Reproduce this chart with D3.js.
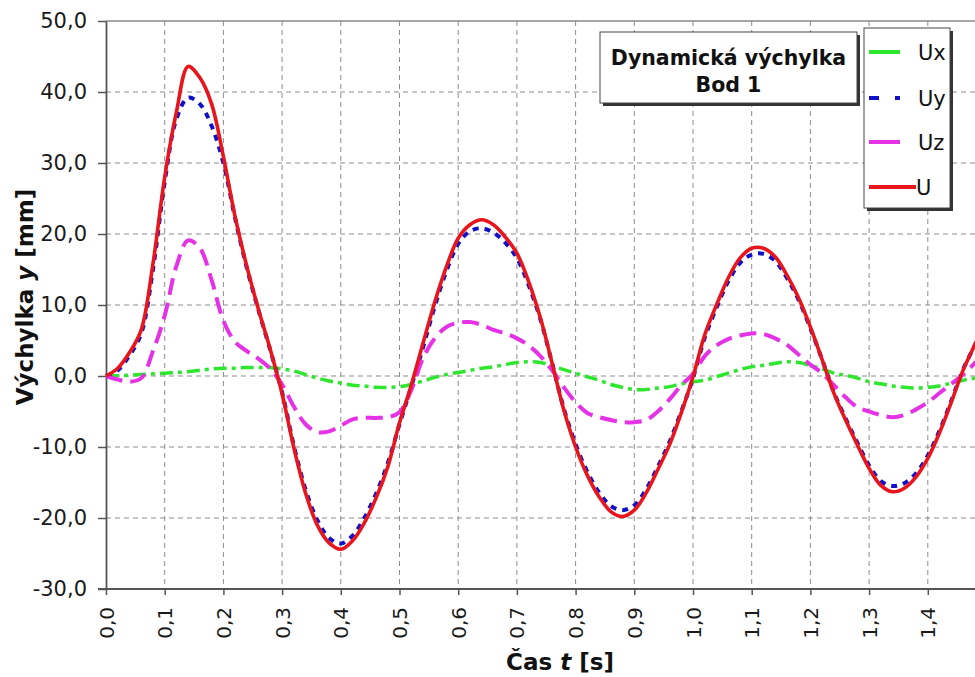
<!DOCTYPE html>
<html>
<head>
<meta charset="utf-8">
<title>Dynamická výchylka - Bod 1</title>
<script src="https://cdnjs.cloudflare.com/ajax/libs/d3/7.8.5/d3.min.js"></script>
<style>
	body { margin: 0; background: #fff; }
	svg { display: block; font-family: "DejaVu Sans", Verdana, sans-serif; }
</style>
</head>
<body>
<div id="chart"></div>
<script>
// time [s]
var time = [0.00, 0.02, 0.04, 0.06, 0.08, 0.10, 0.12, 0.14, 0.16, 0.18,
	0.20, 0.22, 0.24, 0.26, 0.28, 0.30, 0.32, 0.34, 0.36, 0.38,
	0.40, 0.42, 0.44, 0.46, 0.48, 0.50, 0.52, 0.54, 0.56, 0.58,
	0.60, 0.62, 0.64, 0.66, 0.68, 0.70, 0.72, 0.74, 0.76, 0.78,
	0.80, 0.82, 0.84, 0.86, 0.88, 0.90, 0.92, 0.94, 0.96, 0.98,
	1.00, 1.02, 1.04, 1.06, 1.08, 1.10, 1.12, 1.14, 1.16, 1.18,
	1.20, 1.22, 1.24, 1.26, 1.28, 1.30, 1.32, 1.34, 1.36, 1.38,
	1.40, 1.42, 1.44, 1.46, 1.48, 1.50];

// displacements [mm]
var ux = [0, 0.05, 0.1, 0.2, 0.3, 0.4, 0.5, 0.6, 0.8, 1.0,
	1.1, 1.1, 1.2, 1.2, 1.2, 1.0, 0.7, 0.2, -0.3, -0.7,
	-1.0, -1.3, -1.4, -1.6, -1.6, -1.5, -1.2, -0.7, -0.2, 0.2,
	0.5, 0.8, 1.1, 1.3, 1.6, 1.9, 2.0, 1.9, 1.4, 0.9,
	0.4, -0.1, -0.6, -1.2, -1.6, -1.9, -1.9, -1.7, -1.5, -1.1,
	-0.8, -0.6, -0.1, 0.4, 0.9, 1.3, 1.5, 1.8, 2.0, 1.9,
	1.5, 1.0, 0.4, 0.1, -0.3, -0.8, -1.1, -1.4, -1.6, -1.7,
	-1.6, -1.4, -1.0, -0.6, -0.3, 0.0];

var uy = [0, 0.8, 2.9, 6.0, 15.0, 27.3, 36.2, 39.2, 38.3, 35.2,
	30.0, 22.2, 15.2, 9.2, 3.6, -2.3, -9.8, -16.0, -20.3, -22.8,
	-23.6, -22.5, -20.0, -16.6, -12.3, -6.8, -1.5, 4.0, 9.8, 14.8,
	18.6, 20.4, 20.8, 20.2, 18.8, 16.6, 12.8, 8.0, 1.8, -4.6,
	-9.6, -13.5, -16.4, -18.3, -18.9, -18.2, -16.0, -12.8, -9.3, -5.0,
	-0.3, 5.4, 9.6, 13.3, 15.9, 17.1, 17.2, 16.2, 13.8, 10.7,
	6.7, 2.3, -2.3, -6.0, -9.4, -12.6, -14.8, -15.5, -15.1, -13.7,
	-11.2, -7.7, -3.5, 0.9, 4.3, 7.8];

var uz = [0, -0.5, -0.8, -0.3, 3.5, 8.5, 15.5, 19.1, 18.0, 13.5,
	7.8, 4.8, 3.5, 2.4, 1.0, -1.2, -4.3, -6.8, -7.9, -7.8,
	-7.0, -6.1, -5.9, -5.9, -5.8, -5.1, -2.0, 2.5, 5.3, 6.9,
	7.5, 7.6, 7.2, 6.5, 6.0, 5.3, 4.3, 2.8, 0.8, -1.6,
	-3.7, -5.2, -5.8, -6.2, -6.5, -6.5, -6.2, -5.0, -3.3, -1.3,
	0.3, 2.8, 4.3, 5.2, 5.7, 6.0, 5.9, 5.3, 4.4, 3.0,
	1.6, 0.4, -1.3, -3.0, -4.4, -5.0, -5.5, -5.8, -5.5, -4.7,
	-3.7, -2.4, -1.1, 0.2, 1.8, 3.4];

var u = [0, 1.1, 3.3, 6.5, 15.8, 28.0, 37.2, 43.6, 42.0, 38.3,
	30.9, 22.4, 15.4, 9.3, 3.7, -2.5, -10.1, -16.5, -21.0, -23.5,
	-24.4, -23.2, -20.7, -17.2, -12.8, -6.6, -1.3, 4.6, 10.4, 15.4,
	19.4, 21.3, 22.0, 21.3, 19.6, 17.3, 13.3, 8.2, 1.8, -4.8,
	-10.0, -14.0, -17.0, -19.1, -19.8, -18.9, -16.5, -13.2, -9.7, -5.2,
	-0.1, 5.8, 10.0, 13.8, 16.6, 18.0, 18.0, 16.8, 14.2, 11.0,
	6.9, 2.3, -2.4, -6.2, -9.7, -13.0, -15.4, -16.3, -15.8, -14.2,
	-11.6, -8.0, -3.7, 0.8, 4.4, 8.0];

var seriesNames = ["Ux", "Uy", "Uz", "U"];
var seriesValues = [ux, uy, uz, u];

var xTicks = [0, 0.1, 0.2, 0.3, 0.4, 0.5, 0.6, 0.7, 0.8, 0.9, 1.0, 1.1, 1.2, 1.3, 1.4];
var yTicks = [-30, -20, -10, 0, 10, 20, 30, 40, 50];

var titleLines = ["Dynamická výchylka", "Bod 1"];

// styles per series
var colors = ["#2ee62e", "#1010c8", "#e632e6", "#e8161c"];
var dashes = ["13,5,4,5", "6,6", "17,8", null];
var legendDashes = [null, "10,16", null, null];
var widths = [3.5, 4, 4, 3.6];

var W = 975, H = 677;
var plotLeft = 106, plotTop = 21, plotBottom = 589;

var x = d3.scaleLinear().domain([0, 1.5]).range([plotLeft, plotLeft + 1.5 * 587]);
var y = d3.scaleLinear().domain([-30, 50]).range([plotBottom, plotTop]);

// czech style numbers: decimal comma, plain hyphen for minus
var comma = function(f){ return function(v){ return d3.format(f)(v).replace('.', ',').replace('\u2212', '-'); }; };

var svg = d3.select("#chart").append("svg")
	.attr("width", W)
	.attr("height", H);

// grid
svg.append("g").selectAll("line")
	.data(yTicks.filter(function(d){ return d > -30; }))
	.enter().append("line")
	.attr("x1", plotLeft).attr("x2", W)
	.attr("y1", function(d){ return y(d); })
	.attr("y2", function(d){ return y(d); })
	.attr("stroke", function(d){ return d == 50 ? "#888" : "#8c8c8c"; })
	.attr("stroke-width", function(d){ return d == 50 ? 1.5 : 1; })
	.attr("stroke-dasharray", function(d){ return d == 50 ? null : "5,4"; });

svg.append("g").selectAll("line")
	.data(xTicks.filter(function(d){ return d > 0; }))
	.enter().append("line")
	.attr("x1", function(d){ return x(d); })
	.attr("x2", function(d){ return x(d); })
	.attr("y1", plotTop).attr("y2", plotBottom)
	.attr("stroke", "#8c8c8c")
	.attr("stroke-width", 1)
	.attr("stroke-dasharray", "5,4");

// axes
var yAxis = svg.append("g")
	.attr("transform", "translate(" + plotLeft + ",0)")
	.call(d3.axisLeft(y).tickValues(yTicks).tickSize(8).tickSizeOuter(0).tickPadding(11).tickFormat(comma(".1f")));
yAxis.selectAll("text")
	.attr("font-size", "21px")
	.attr("fill", "#1a1a1a")
	.attr("font-family", "'DejaVu Sans', Verdana, sans-serif");

var xAxis = svg.append("g")
	.attr("transform", "translate(0," + plotBottom + ")")
	.call(d3.axisBottom(x).tickValues(xTicks).tickSize(6).tickSizeOuter(0).tickFormat(comma(".1f")));
xAxis.selectAll("text")
	.attr("font-size", "20px")
	.attr("fill", "#1a1a1a")
	.attr("font-family", "'DejaVu Sans', Verdana, sans-serif")
	.attr("text-anchor", "end")
	.attr("transform", "translate(7,18) rotate(-90)")
	.attr("x", 0).attr("y", 0).attr("dy", 0);

[yAxis, xAxis].forEach(function(g){
	g.selectAll("line").attr("stroke", "#555").attr("stroke-width", 1.5);
	g.select(".domain").attr("stroke", "#555").attr("stroke-width", 1.8);
});
xAxis.select(".domain").attr("d", "M" + (plotLeft - 8) + ",0H" + W);

// series
var line = d3.line()
	.x(function(d){ return x(d[0]); })
	.y(function(d){ return y(d[1]); })
	.curve(d3.curveCatmullRom.alpha(0.5));

seriesValues.forEach(function(vals, i){
	var pts = time.map(function(t, j){ return [t, vals[j]]; });
	svg.append("path")
		.datum(pts)
		.attr("d", line)
		.attr("fill", "none")
		.attr("stroke", colors[i])
		.attr("stroke-width", widths[i])
		.attr("stroke-dasharray", dashes[i]);
});

// title box
var tb = svg.append("g");
tb.append("rect").attr("x", 603).attr("y", 35).attr("width", 257).attr("height", 71).attr("fill", "#333");
tb.append("rect").attr("x", 600).attr("y", 32).attr("width", 257).attr("height", 71)
	.attr("fill", "#fff").attr("stroke", "#444").attr("stroke-width", 1);
tb.selectAll("text").data(titleLines).enter().append("text")
	.attr("x", 728.5)
	.attr("y", function(d, i){ return 65 + i * 27; })
	.attr("text-anchor", "middle")
	.attr("font-weight", "bold")
	.attr("font-size", "20.5px")
	.attr("fill", "#111")
	.text(function(d){ return d; });

// legend
var lg = svg.append("g");
lg.append("rect").attr("x", 867).attr("y", 31).attr("width", 86).attr("height", 180).attr("fill", "#333");
lg.append("rect").attr("x", 864).attr("y", 28).attr("width", 86).attr("height", 180)
	.attr("fill", "#fff").attr("stroke", "#444").attr("stroke-width", 1);
var legendY = [52, 98, 142, 187];
seriesNames.forEach(function(name, i){
	lg.append("line")
		.attr("x1", 869).attr("x2", i == 3 ? 916 : 900)
		.attr("y1", legendY[i]).attr("y2", legendY[i])
		.attr("stroke", colors[i])
		.attr("stroke-width", 4)
		.attr("stroke-dasharray", legendDashes[i]);
	lg.append("text")
		.attr("x", i == 3 ? 916 : 918)
		.attr("y", legendY[i] + 8)
		.attr("font-size", "21px")
		.attr("fill", "#111")
		.text(name);
});

// axis titles
var yt = svg.append("text")
	.attr("transform", "translate(33,297) rotate(-90)")
	.attr("text-anchor", "middle")
	.attr("font-weight", "bold")
	.attr("font-size", "23px")
	.attr("fill", "#111");
yt.append("tspan").text("Výchylka ");
yt.append("tspan").attr("font-style", "italic").text("y");
yt.append("tspan").text(" [mm]");

var xt = svg.append("text")
	.attr("x", 560).attr("y", 670)
	.attr("text-anchor", "middle")
	.attr("font-weight", "bold")
	.attr("font-size", "23px")
	.attr("fill", "#111");
xt.append("tspan").text("Čas ");
xt.append("tspan").attr("font-style", "italic").text("t");
xt.append("tspan").text(" [s]");
</script>
</body>
</html>
